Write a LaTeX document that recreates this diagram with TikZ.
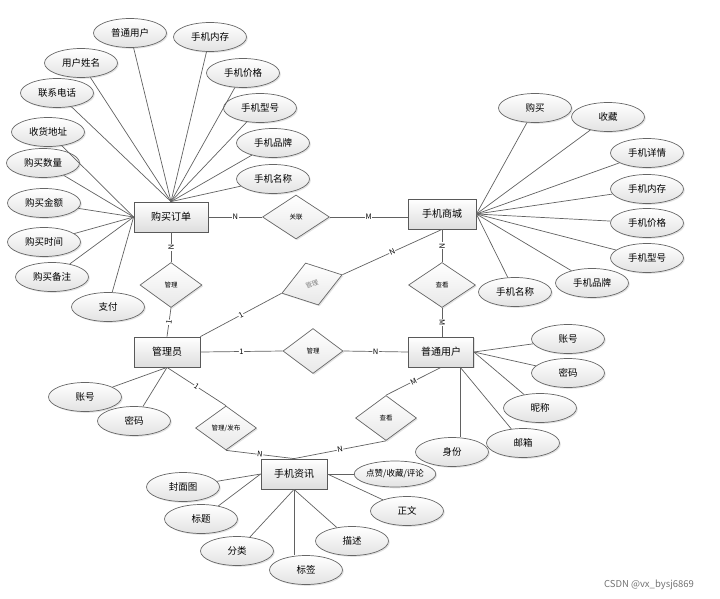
\documentclass[tikz,border=0pt]{standalone}
\usepackage{fontspec}
\setmainfont{Noto Sans CJK SC}
\usetikzlibrary{shapes.geometric,shadows}
\begin{document}
\begin{tikzpicture}[x=1pt,y=-1pt,
  shd/.style={drop shadow={shadow xshift=1.3pt,shadow yshift=-1.3pt,fill=black!22}},
  ent/.style={rectangle, draw=black!65, line width=0.8pt, top color=white, bottom color=black!13,
    minimum width=66pt, minimum height=30pt, inner sep=1pt, font=\fontsize{10}{10}\selectfont, shd},
  attr/.style={ellipse, draw=black!60, line width=0.7pt, top color=white, bottom color=black!11,
    minimum width=73pt, minimum height=29pt, inner sep=0pt, font=\fontsize{9.5}{9.5}\selectfont, shd},
  rel/.style={diamond, draw=black!60, line width=0.7pt, top color=white, bottom color=black!9,
    minimum width=62pt, minimum height=45pt, inner sep=0pt, font=\fontsize{6.5}{6.5}\selectfont, shd},
  ln/.style={draw=black!62, line width=0.7pt},
  card/.style={font=\fontsize{7.5}{7.5}\selectfont, fill=white, inner sep=0.6pt, sloped}]
\useasboundingbox (0,0) rectangle (720,598);

% entities
\node[ent, minimum width=74pt] (dd) at (171,217) {购买订单};
\node[ent, minimum width=68pt] (sc) at (442,214) {手机商城};
\node[ent] (gly) at (167,352) {管理员};
\node[ent, minimum width=65pt] (pt) at (441,352) {普通用户};
\node[ent] (zx) at (294,474) {手机资讯};

% relationships
\node[rel, minimum width=67pt, minimum height=44pt] (gl) at (296,217) {关联};
\node[rel] (r1) at (171,285) {管理};
\node[rel, rotate=17, text=black!50, minimum width=63pt, minimum height=44pt] (r2) at (312,284) {管理};
\node[rel, minimum width=67pt] (r3) at (442,285) {查看};
\node[rel, minimum width=60pt] (r4) at (313,351) {管理};
\node[rel, minimum width=61pt, minimum height=44pt] (r5) at (226,428) {管理/发布};
\node[rel, minimum width=61pt] (r6) at (386,418) {查看};

% relationship connectors
\draw[ln] (dd.east) -- node[card]{N} (gl.west);
\draw[ln] (gl.east) -- node[card]{M} (gl.east -| sc.west);
\draw[ln] (dd.south) -- node[card]{N} (r1.north);
\draw[ln] (r1.south) -- node[card]{1} (gly.north);
\draw[ln] (gly.north east) -- node[card]{1} (r2.west);
\draw[ln] (r2.east) -- node[card]{N} (sc.south);
\draw[ln] (sc.south) -- node[card]{N} (r3.north);
\draw[ln] (r3.south) -- node[card]{M} (r3.south |- pt.north);
\draw[ln] (gly.east) -- node[card]{1} (r4.west);
\draw[ln] (r4.east) -- node[card]{N} (pt.west);
\draw[ln] (gly.south) -- node[card]{1} (r5.north);
\draw[ln] (r5.south) -- node[card]{N} (zx.north);
\draw[ln] (pt.south) -- node[card]{M} (r6.north);
\draw[ln] (r6.south) -- node[card]{N} (zx.north);

% attributes of 购买订单
\node[attr] (a1) at (130,33) {普通用户};
\node[attr] (a2) at (210,37) {手机内存};
\node[attr] (a3) at (81,63) {用户姓名};
\node[attr] (a4) at (243,73) {手机价格};
\node[attr] (a5) at (57,93) {联系电话};
\node[attr] (a6) at (260,108) {手机型号};
\node[attr] (a7) at (273,143) {手机品牌};
\node[attr] (a8) at (273,179) {手机名称};
\node[attr] (a9) at (48,132) {收货地址};
\node[attr] (a10) at (43,163) {购买数量};
\node[attr] (a11) at (44,203) {购买金额};
\node[attr] (a12) at (44,242) {购买时间};
\node[attr] (a13) at (52,277) {购买备注};
\node[attr] (a14) at (108,307) {支付};
\foreach \n in {a1,a2,a3,a4,a5,a6,a7,a8} \draw[ln] (\n) -- (dd.north);
\foreach \n in {a9,a10,a11,a12,a13,a14} \draw[ln] (\n) -- (dd.west);

% attributes of 手机商城
\node[attr] (b1) at (535,108) {购买};
\node[attr] (b2) at (608,117) {收藏};
\node[attr] (b3) at (647,153) {手机详情};
\node[attr] (b4) at (647,189) {手机内存};
\node[attr] (b5) at (647,223) {手机价格};
\node[attr] (b6) at (647,258) {手机型号};
\node[attr] (b7) at (592,283) {手机品牌};
\node[attr] (b8) at (515,292) {手机名称};
\foreach \n in {b1,b2,b3,b4,b5,b6,b7,b8} \draw[ln] (\n) -- (sc.east);

% attributes of 管理员
\node[attr] (c1) at (85,397) {账号};
\node[attr] (c2) at (134,421) {密码};
\foreach \n in {c1,c2} \draw[ln] (\n) -- (gly.south);

% attributes of 普通用户
\node[attr] (d1) at (568,339) {账号};
\node[attr] (d2) at (568,373) {密码};
\node[attr] (d3) at (540,408) {昵称};
\node[attr] (d4) at (523,443) {邮箱};
\node[attr] (d5) at (452,452) {身份};
\coordinate (ptb) at (460,367);
\foreach \n in {d1,d2,d3} \draw[ln] (\n) -- (pt.east);
\draw[ln] (d4) -- (ptb);
\draw[ln] (ptb) -- (ptb |- d5.north);

% attributes of 手机资讯
\node[attr, minimum height=26pt, font=\fontsize{8.5}{8.5}\selectfont] (e1) at (395,474) {点赞/收藏/评论};
\node[attr] (e2) at (183,487) {封面图};
\node[attr] (e3) at (201,519) {标题};
\node[attr] (e4) at (407,511) {正文};
\node[attr] (e5) at (237,551) {分类};
\node[attr] (e6) at (352,541) {描述};
\node[attr] (e7) at (306,570) {标签};
\foreach \n in {e1,e4} \draw[ln] (\n) -- (zx.east);
\foreach \n in {e2,e3} \draw[ln] (\n) -- (zx.west);
\foreach \n in {e5,e6} \draw[ln] (\n) -- (zx.south);
\draw[ln] (zx.south) -- (zx.south |- e7.north);

% watermark
\node[text=black!55, font=\fontsize{9.5}{9.5}\selectfont] (wm) at (649,585) {CSDN @vx\_bysj6869};
\end{tikzpicture}
\end{document}
